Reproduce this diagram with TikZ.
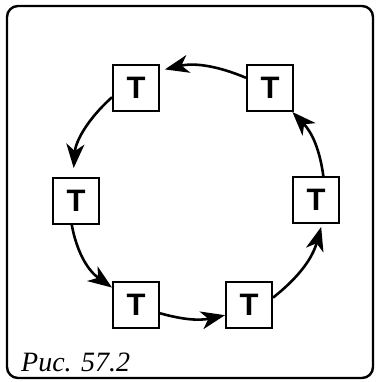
\documentclass[tikz,border=0pt]{standalone}
\usepackage{fontspec}
\setmainfont{Liberation Serif}
\newfontfamily\tfont{Liberation Sans}
\usetikzlibrary{arrows.meta}
\begin{document}
\begin{tikzpicture}[x=1pt,y=-1pt,
  tbox/.style={draw,line width=2pt,minimum size=46pt,inner sep=0pt,font=\tfont\bfseries\fontsize{31}{31}\selectfont},
  conn/.style={line width=2.6pt,-{Stealth[length=24pt,width=18pt,inset=7pt]}}]
\useasboundingbox (0,0) rectangle (375,382);
\draw[line width=2.4pt,rounded corners=11pt] (7,6) rectangle (373,378);
\node[tbox] (tl) at (136,88) {T};
\node[tbox] (tr) at (270,88) {T};
\node[tbox] (l) at (76,201) {T};
\node[tbox] (r) at (316,200) {T};
\node[tbox] (bl) at (136,305) {T};
\node[tbox] (br) at (249,305) {T};
\node[anchor=base west,inner sep=0pt,font=\itshape\fontsize{28}{28}\selectfont] (cap) at (21,371) {Рис. 57.2};
\draw[conn,shorten >=5pt] (tr.157) to[bend right=18] (tl.36);
\draw[conn,shorten >=9pt] (tl.201) to[bend right=22] (l.97);
\draw[conn] (l.260) to[bend right=22] (bl.144);
\draw[conn] (bl.341) to[bend right=14] (br.203);
\draw[conn,shorten >=3pt] (br.17) to[bend right=18] (r.284);
\draw[conn] (r.73) to[bend right=18] (tr.313);
\end{tikzpicture}
\end{document}
